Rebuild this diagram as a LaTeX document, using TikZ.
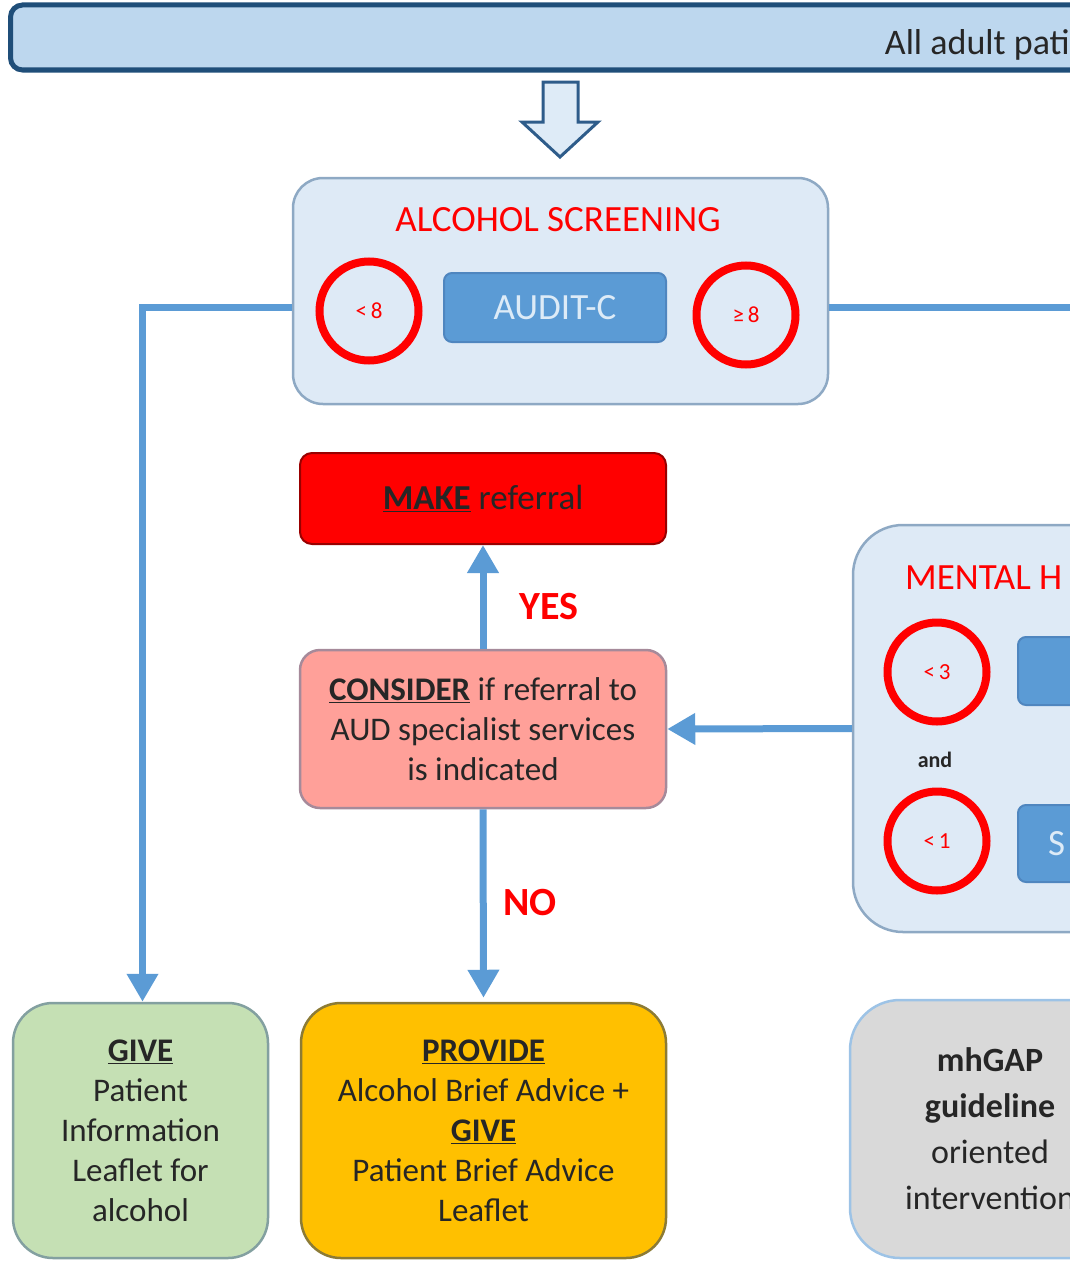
\documentclass[tikz,border=0pt]{standalone}
\usepackage{fontspec}
\setmainfont{Carlito}
\usetikzlibrary{arrows.meta}
\definecolor{barfill}{HTML}{BDD7EE}
\definecolor{bardraw}{HTML}{1F4E79}
\definecolor{arrowfill}{HTML}{DEEBF7}
\definecolor{arrowline}{HTML}{2E5C8A}
\definecolor{panelfill}{HTML}{DEEAF6}
\definecolor{panelline}{HTML}{8EA9C4}
\definecolor{blueone}{HTML}{5B9BD5}
\definecolor{blueline}{HTML}{4F86BF}
\definecolor{boxtext}{HTML}{DDEBF7}
\definecolor{salmon}{HTML}{FFA099}
\definecolor{salmonline}{HTML}{A68A9A}
\definecolor{greenfill}{HTML}{C5E0B4}
\definecolor{greenline}{HTML}{83A0A0}
\definecolor{goldfill}{HTML}{FFC000}
\definecolor{goldline}{HTML}{8C7B35}
\definecolor{grayfill}{HTML}{D9D9D9}
\definecolor{grayline}{HTML}{9DC3E6}
\definecolor{textgray}{HTML}{262626}
\newcommand{\bodysize}{\fontsize{33}{40}\selectfont}
\newcommand{\titlesize}{\fontsize{37}{44}\selectfont}
\newcommand{\ringsize}{\fontsize{23}{27}\selectfont}
\newcommand{\answersize}{\fontsize{40}{48}\selectfont}
\newcommand{\ul}[1]{\underline{\textbf{#1}}}

\begin{document}
\begin{tikzpicture}[x=1pt,y=-1pt,
every node/.style={font=\bodysize,align=center,text=textgray,inner sep=0pt},
bar/.style={draw=bardraw,fill=barfill,line width=5pt,rounded corners=12pt},
hollow/.style={draw=arrowline,fill=arrowfill,line width=3pt},
panel/.style={draw=panelline,fill=panelfill,line width=2.5pt,rounded corners=30pt},
title/.style={text=red,font=\titlesize},
ring/.style={circle,draw=red,line width=8pt,minimum size=99pt,text=red,font=\ringsize},
bluebox/.style={draw=blueline,fill=blueone,line width=2pt,rounded corners=8pt,text=boxtext,font=\titlesize},
makebox/.style={draw=red!60!black,fill=red,line width=2pt,rounded corners=12pt,text=black!85,font=\fontsize{35}{42}\selectfont},
considerbox/.style={draw=salmonline,fill=salmon,line width=2.5pt,rounded corners=20pt},
givebox/.style={draw=greenline,fill=greenfill,line width=2.5pt,rounded corners=40pt},
providebox/.style={draw=goldline,fill=goldfill,line width=2.5pt,rounded corners=40pt},
mhgapbox/.style={draw=grayline,fill=grayfill,line width=2.5pt,rounded corners=50pt,font=\fontsize{34}{46}\selectfont},
flow/.style={draw=blueone,line width=7pt,-{Triangle[length=28pt,width=30pt]}},
answer/.style={text=red,font=\answersize\bfseries}
]
\useasboundingbox (0,0) rectangle (1070,1263);
\clip (0,0) rectangle (1070,1263);

\node[bar,anchor=west,minimum width=1300pt,minimum height=65pt] (top) at (8,37.5) {};
\node[anchor=base east,font=\fontsize{36}{42}\selectfont] (toptext) at (1070,55) {All adult pati};
\draw[hollow] (543,82) -- (578,82) -- (578,122) -- (598,122) -- (560,157) -- (522,122) -- (543,122) -- cycle;

\node[panel,minimum width=535pt,minimum height=226pt] (alc) at (560.5,291) {};
\node[title] (alctitle) at (558,220) {ALCOHOL SCREENING};
\node[ring] (lt8) at (369,311) {<\,8};
\node[bluebox,minimum width=222pt,minimum height=69pt] (audit) at (555,307.5) {AUDIT-C};
\node[ring] (ge8) at (746,315) {≥\,8};

\node[panel,rounded corners=50pt,minimum width=546pt,minimum height=407pt] (mh) at (1126,728.5) {};
\node[title,anchor=base west] (mhtitle) at (905,589) {MENTAL H};
\node[ring] (lt3) at (937,672) {<\,3};
\node[font=\fontsize{22}{26}\selectfont\bfseries] (and) at (935,760) {and};
\node[ring] (lt1) at (937,841) {<\,1};
\node[bluebox,anchor=west,minimum width=222pt,minimum height=68pt] (mhone) at (1017,671) {};
\node[bluebox,anchor=west,minimum height=77pt,text width=190pt,inner xsep=30pt,align=left] (mhtwo) at (1017,843.5) {S};

\node[makebox,minimum width=366pt,minimum height=91pt] (make) at (483,498.5) {\ul{MAKE} referral};
\node[considerbox,minimum width=366pt,minimum height=158pt] (consider) at (483,729) {\ul{CONSIDER} if referral to\\AUD specialist services\\is indicated};

\node[givebox,minimum width=255pt,minimum height=255pt] (give) at (140.5,1130.5) {\ul{GIVE}\\Patient\\Information\\Leaflet for\\alcohol};
\node[providebox,minimum width=365pt,minimum height=255pt] (provide) at (483.5,1130.5) {\ul{PROVIDE}\\Alcohol Brief Advice +\\\ul{GIVE}\\Patient Brief Advice\\Leaflet};
\node[mhgapbox,minimum width=280pt,minimum height=258pt] (mhgap) at (990,1129) {\textbf{mhGAP}\\\textbf{guideline}\\oriented\\intervention};

\node[answer] (yes) at (549,607) {YES};
\node[answer] (no) at (530,903) {NO};

\coordinate (offright) at (1075,307.5);
\draw[flow] (alc.west |- audit) -| ([xshift=2pt]give.north);
\draw[flow,-] (alc.east |- audit) -- (offright);
\draw[flow] (consider.north) -- (make.south);
\draw[flow,shorten >=4pt] (consider.south) -- (provide.north);
\draw[flow] (mh.west) -- (consider.east);
\end{tikzpicture}
\end{document}
